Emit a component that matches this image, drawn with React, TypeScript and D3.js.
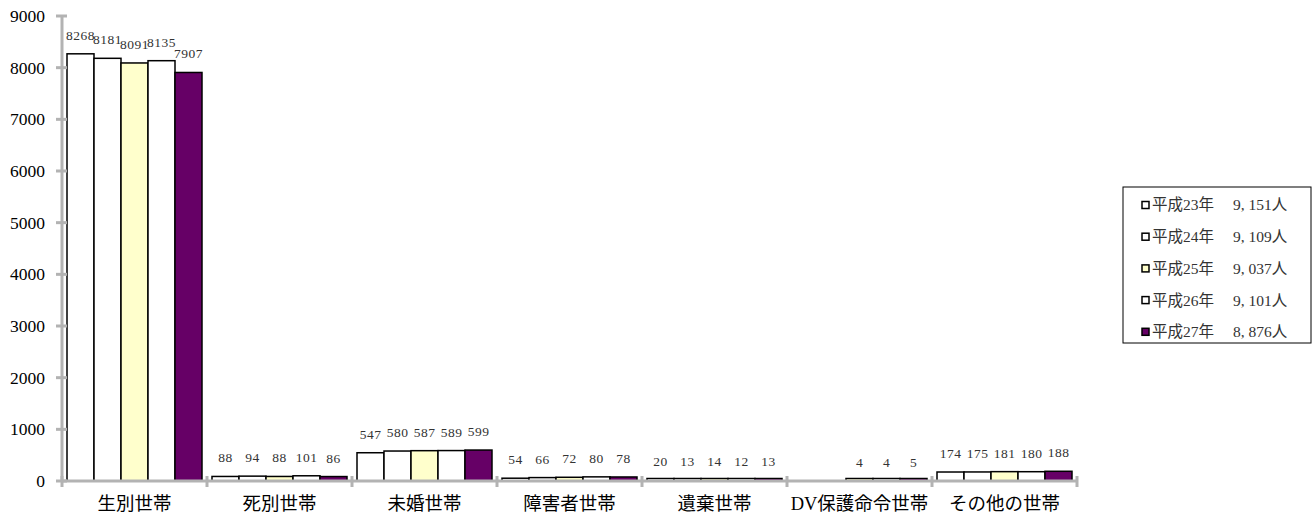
import * as d3 from 'd3';

// ---------------------------------------------------------------------------
// Data
// ---------------------------------------------------------------------------
const CATEGORIES = ['生別世帯', '死別世帯', '未婚世帯', '障害者世帯', '遺棄世帯', 'DV保護命令世帯', 'その他の世帯'];
const SERIES = ['平成23年', '平成24年', '平成25年', '平成26年', '平成27年'];
const TOTALS = ['9, 151人', '9, 109人', '9, 037人', '9, 101人', '8, 876人'];

const H23 = [8268, 88, 547, 54, 20, null, 174];
const H24 = [8181, 94, 580, 66, 13, null, 175];
const H25 = [8091, 88, 587, 72, 14, 4, 181];
const H26 = [8135, 101, 589, 80, 12, 4, 180];
const H27 = [7907, 86, 599, 78, 13, 5, 188];
const VALUES: (number | null)[][] = [H23, H24, H25, H26, H27];

const Y_TICKS = [0, 1000, 2000, 3000, 4000, 5000, 6000, 7000, 8000, 9000];

// ---------------------------------------------------------------------------
// Style
// ---------------------------------------------------------------------------
const COLORS = ['#ffffff', '#ffffff', '#ffffcc', '#ffffff', '#660066'];
const AXIS = '#b3b3b3';
const TEXT = '#333333';
const FONT = '"Liberation Serif", "DejaVu Serif", "Noto Sans CJK JP", serif';

export default function App() {
  const W = 1316;
  const H = 515;
  const left = 62;
  const right = 1077;
  const top = 16;
  const bottom = 481;

  const x = d3.scaleBand<string>().domain(CATEGORIES).range([left, right]).paddingInner(0).paddingOuter(0);
  const xi = d3.scaleBand<string>().domain(SERIES).range([5, x.bandwidth() - 5]).padding(0);
  const y = d3.scaleLinear().domain([0, 9000]).range([bottom, top]);

  const boundaries = [...CATEGORIES.map((c) => x(c)!), right];

  return (
    <svg
      width={W}
      height={H}
      style={{ position: 'absolute', left: 0, top: 0, background: '#fff' }}
      fontFamily={FONT}
    >
      {/* bars + labels */}
      {CATEGORIES.map((cat, ci) => (
        <g key={cat} transform={`translate(${x(cat)},0)`}>
          {SERIES.map((s, si) => {
            const v = VALUES[si][ci];
            if (v == null) return null;
            const bx = xi(s)!;
            const bw = xi.bandwidth();
            return (
              <g key={s}>
                <rect
                  x={bx}
                  y={Math.min(y(v), bottom - 2.5)}
                  width={bw}
                  height={Math.max(2.5, bottom - y(v))}
                  fill={COLORS[si]}
                  stroke="#000"
                  strokeWidth={1.5}
                />
                <text
                  x={bx + bw / 2}
                  y={y(v) - 14}
                  textAnchor="middle"
                  fontSize={13.5}
                  letterSpacing={0.5}
                  fill={TEXT}
                >
                  {v}
                </text>
              </g>
            );
          })}
        </g>
      ))}

      {/* y axis */}
      <line x1={left} x2={left} y1={top} y2={bottom} stroke={AXIS} strokeWidth={3} />
      {Y_TICKS.map((t) => (
        <g key={t}>
          <line x1={left - 6} x2={left + 5} y1={y(t)} y2={y(t)} stroke={AXIS} strokeWidth={3} />
          <text x={45} y={y(t)} dy="0.35em" textAnchor="end" fontSize={17.5} fill="#000">
            {t}
          </text>
        </g>
      ))}

      {/* x axis */}
      <line x1={left} x2={right} y1={bottom} y2={bottom} stroke={AXIS} strokeWidth={3} />
      {boundaries.map((bx, i) => (
        <line key={i} x1={bx} x2={bx} y1={bottom - 5} y2={bottom + 6} stroke={AXIS} strokeWidth={3} />
      ))}
      {CATEGORIES.map((cat) => (
        <text
          key={cat}
          x={x(cat)! + x.bandwidth() / 2}
          y={504}
          dy="0.35em"
          textAnchor="middle"
          fontSize={18.5}
          fill="#000"
        >
          {cat}
        </text>
      ))}

      {/* legend */}
      <rect x={1123} y={187} width={188} height={156} fill="#fff" stroke="#000" strokeWidth={1} />
      {SERIES.map((s, i) => {
        const ly = 205 + i * 31.7;
        return (
          <g key={s}>
            <rect x={1142} y={ly - 3.5} width={7} height={7} fill={COLORS[i]} stroke="#000" strokeWidth={1.5} />
            <text x={1152} y={ly} dy="0.35em" fontSize={15.5} fill={TEXT}>
              {s}
            </text>
            <text x={1233} y={ly} dy="0.35em" fontSize={15.5} fill={TEXT}>
              {TOTALS[i]}
            </text>
          </g>
        );
      })}
    </svg>
  );
}
